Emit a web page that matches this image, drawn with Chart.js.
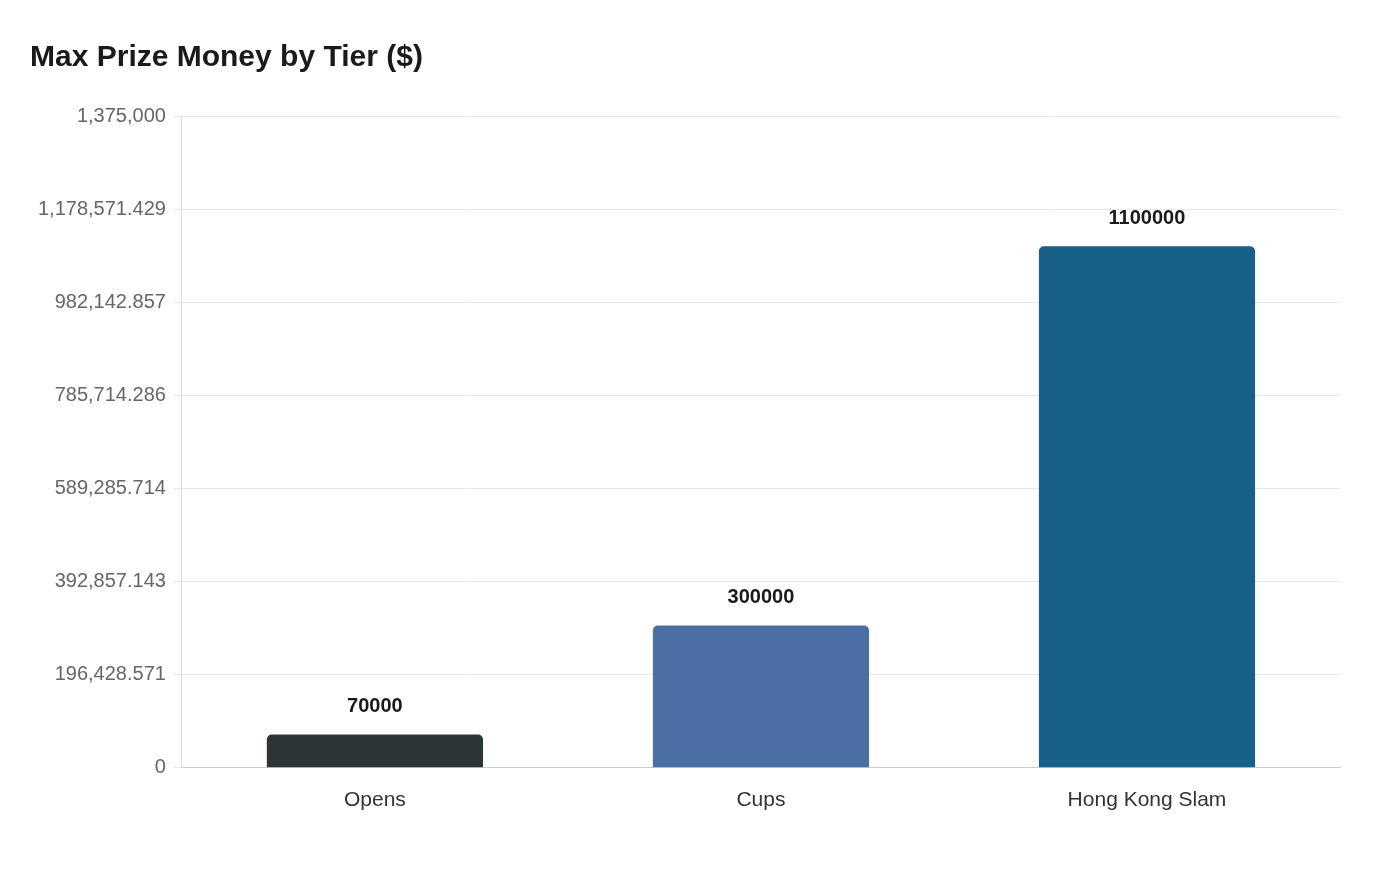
<!DOCTYPE html>
<html>
<head>
<meta charset="utf-8">
<script src="https://cdn.jsdelivr.net/npm/chart.js@4"></script>
<style>
  html, body { margin: 0; padding: 0; background: #fff; }
  #wrap { width: 1400px; height: 880px; }
</style>
</head>
<body>
<div id="wrap"><canvas id="myChart"></canvas></div>
<script>
const tiers = ['Opens', 'Cups', 'Hong Kong Slam'];
const maxPrize = [70000, 300000, 1100000];
const barColors = ['#2d3436', '#4a6fa5', '#176087'];

// draws the raw value above each bar
const valueLabels = {
  id: 'valueLabels',
  afterDatasetsDraw(chart) {
    const ctx = chart.ctx;
    const meta = chart.getDatasetMeta(0);
    ctx.save();
    ctx.font = 'bold 20px "Liberation Sans", Arial, sans-serif';
    ctx.fillStyle = '#1a1a1a';
    ctx.textAlign = 'center';
    ctx.textBaseline = 'bottom';
    meta.data.forEach((bar, i) => {
      ctx.fillText(String(maxPrize[i]), bar.x, bar.y - 18);
    });
    ctx.restore();
  }
};

Chart.defaults.font.family = '"Liberation Sans", Arial, sans-serif';

new Chart('myChart', {
  type: 'bar',
  data: {
    labels: tiers,
    datasets: [{
      data: maxPrize,
      backgroundColor: barColors,
      borderRadius: 5,
      borderSkipped: 'bottom',
      categoryPercentage: 0.8,
      barPercentage: 0.7
    }]
  },
  options: {
    responsive: true,
    maintainAspectRatio: false,
    animation: false,
    layout: { padding: { left: 30, right: 60, top: 40, bottom: 55 } },
    plugins: {
      legend: { display: false },
      tooltip: { enabled: false },
      title: {
        display: true,
        text: 'Max Prize Money by Tier ($)',
        align: 'start',
        color: '#1a1a1a',
        font: { size: 30, weight: 'bold' },
        padding: { top: 0, bottom: 40 }
      }
    },
    scales: {
      x: {
        grid: { display: false },
        border: { color: '#cccccc' },
        ticks: { color: '#333333', font: { size: 21 }, padding: 12 }
      },
      y: {
        min: 0,
        max: 1375000,
        grid: { color: '#e8e8e8' },
        border: { color: '#dddddd' },
        ticks: {
          stepSize: 200000,
          color: '#666666',
          font: { size: 20 },
          padding: 8,
          callback: v => v.toLocaleString('en-US')
        }
      }
    }
  },
  plugins: [valueLabels]
});
</script>
</body>
</html>
